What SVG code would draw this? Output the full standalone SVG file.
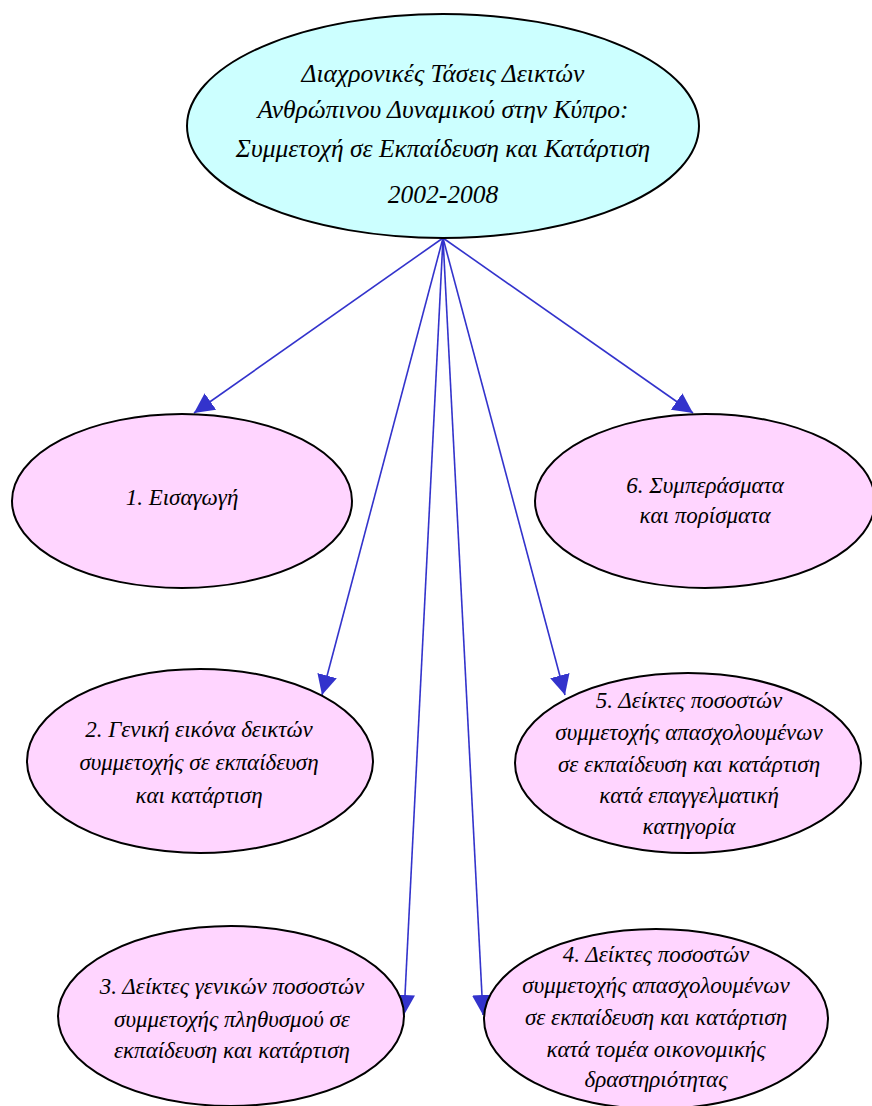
<svg xmlns="http://www.w3.org/2000/svg" width="872" height="1106" viewBox="0 0 872 1106">
<defs>
<marker id="ah" viewBox="0 0 20 20" refX="20" refY="10" markerWidth="20" markerHeight="20" markerUnits="userSpaceOnUse" orient="auto">
<path d="M0,0 L20,10 L0,20 Z" fill="#3333cc"/>
</marker>
</defs>
<rect width="872" height="1106" fill="#fff"/>
<g id="connectors" stroke="#3333cc" stroke-width="1.6" fill="none" marker-end="url(#ah)">
<line x1="443" y1="238" x2="194" y2="413"/>
<line x1="443" y1="238" x2="693" y2="413"/>
<line x1="443" y1="238" x2="322" y2="695"/>
<line x1="443" y1="238" x2="565" y2="695"/>
<line x1="443" y1="238" x2="404" y2="1015"/>
<line x1="443" y1="238" x2="483" y2="1015"/>
</g>
<g id="root">
<ellipse cx="443" cy="126" rx="256" ry="112" fill="#ccffff" stroke="#000" stroke-width="2"/>
<text x="443" y="82" text-anchor="middle" font-family="Liberation Serif" font-style="italic" font-size="25.5">Διαχρονικές Τάσεις Δεικτών</text>
<text x="443" y="118" text-anchor="middle" font-family="Liberation Serif" font-style="italic" font-size="25.5">Ανθρώπινου Δυναμικού στην Κύπρο:</text>
<text x="443" y="157" text-anchor="middle" font-family="Liberation Serif" font-style="italic" font-size="25.5">Συμμετοχή σε Εκπαίδευση και Κατάρτιση</text>
<text x="443" y="203" text-anchor="middle" font-family="Liberation Serif" font-style="italic" font-size="25.5">2002-2008</text>
</g>
<g id="n1">
<ellipse cx="182" cy="501" rx="170" ry="87" fill="#ffd5ff" stroke="#000" stroke-width="2"/>
<text x="182" y="505" text-anchor="middle" font-family="Liberation Serif" font-style="italic" font-size="23">1. Εισαγωγή</text>
</g>
<g id="n6">
<ellipse cx="705" cy="501" rx="170" ry="87" fill="#ffd5ff" stroke="#000" stroke-width="2"/>
<text x="705" y="493" text-anchor="middle" font-family="Liberation Serif" font-style="italic" font-size="23">6. Συμπεράσματα</text>
<text x="705" y="523" text-anchor="middle" font-family="Liberation Serif" font-style="italic" font-size="23">και πορίσματα</text>
</g>
<g id="n2">
<ellipse cx="200" cy="761" rx="173" ry="92" fill="#ffd5ff" stroke="#000" stroke-width="2"/>
<text x="199" y="737" text-anchor="middle" font-family="Liberation Serif" font-style="italic" font-size="23">2. Γενική εικόνα δεικτών</text>
<text x="199" y="770" text-anchor="middle" font-family="Liberation Serif" font-style="italic" font-size="23">συμμετοχής σε εκπαίδευση</text>
<text x="199" y="803" text-anchor="middle" font-family="Liberation Serif" font-style="italic" font-size="23">και κατάρτιση</text>
</g>
<g id="n5">
<ellipse cx="688" cy="763" rx="173" ry="90" fill="#ffd5ff" stroke="#000" stroke-width="2"/>
<text x="689" y="708" text-anchor="middle" font-family="Liberation Serif" font-style="italic" font-size="23">5. Δείκτες ποσοστών</text>
<text x="689" y="740" text-anchor="middle" font-family="Liberation Serif" font-style="italic" font-size="23">συμμετοχής απασχολουμένων</text>
<text x="689" y="772" text-anchor="middle" font-family="Liberation Serif" font-style="italic" font-size="23">σε εκπαίδευση και κατάρτιση</text>
<text x="689" y="803" text-anchor="middle" font-family="Liberation Serif" font-style="italic" font-size="23">κατά επαγγελματική</text>
<text x="689" y="834" text-anchor="middle" font-family="Liberation Serif" font-style="italic" font-size="23">κατηγορία</text>
</g>
<g id="n3">
<ellipse cx="231" cy="1016" rx="173" ry="90" fill="#ffd5ff" stroke="#000" stroke-width="2"/>
<text x="232" y="994" text-anchor="middle" font-family="Liberation Serif" font-style="italic" font-size="23">3. Δείκτες γενικών ποσοστών</text>
<text x="232" y="1027" text-anchor="middle" font-family="Liberation Serif" font-style="italic" font-size="23">συμμετοχής πληθυσμού σε</text>
<text x="232" y="1058" text-anchor="middle" font-family="Liberation Serif" font-style="italic" font-size="23">εκπαίδευση και κατάρτιση</text>
</g>
<g id="n4">
<ellipse cx="656" cy="1019" rx="172" ry="90" fill="#ffd5ff" stroke="#000" stroke-width="2"/>
<text x="656" y="962" text-anchor="middle" font-family="Liberation Serif" font-style="italic" font-size="23">4. Δείκτες ποσοστών</text>
<text x="656" y="993" text-anchor="middle" font-family="Liberation Serif" font-style="italic" font-size="23">συμμετοχής απασχολουμένων</text>
<text x="656" y="1025" text-anchor="middle" font-family="Liberation Serif" font-style="italic" font-size="23">σε εκπαίδευση και κατάρτιση</text>
<text x="656" y="1057" text-anchor="middle" font-family="Liberation Serif" font-style="italic" font-size="23">κατά τομέα οικονομικής</text>
<text x="656" y="1087" text-anchor="middle" font-family="Liberation Serif" font-style="italic" font-size="23">δραστηριότητας</text>
</g>
</svg>
